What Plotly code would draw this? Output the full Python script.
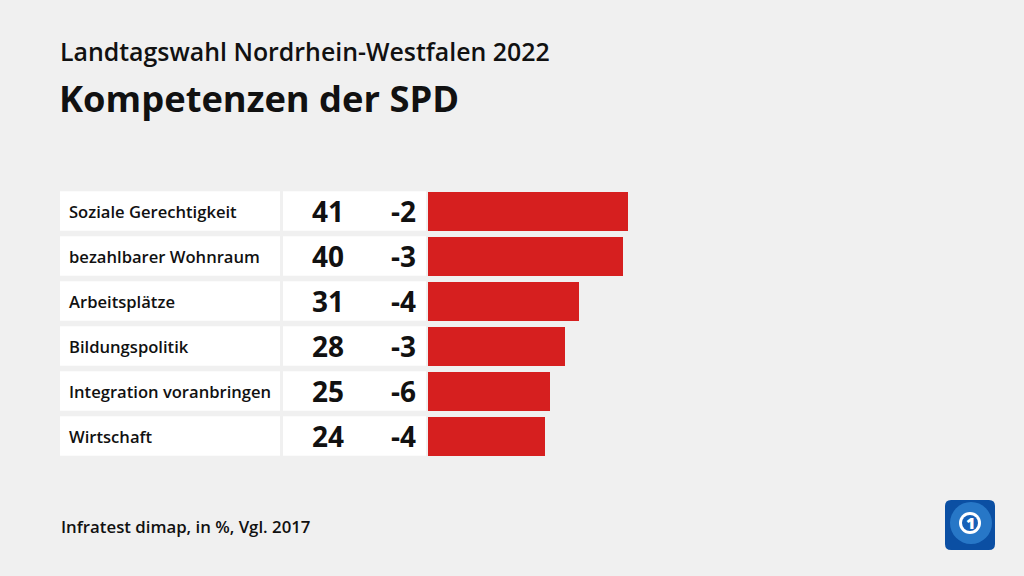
import plotly.graph_objects as go

categories = ["Soziale Gerechtigkeit", "bezahlbarer Wohnraum", "Arbeitsplätze",
              "Bildungspolitik", "Integration voranbringen", "Wirtschaft"]
values = [41, 40, 31, 28, 25, 24]
changes = [-2, -3, -4, -3, -6, -4]

W, H = 1024, 576
BG = "#f0f0f0"
RED = "#d61f1f"
FONT = "Open Sans"

fig = go.Figure()
ypos = list(range(len(categories)))

fig.add_trace(go.Bar(
    x=values, y=ypos, orientation="h", marker=dict(color=RED, line=dict(width=0)),
    width=0.88, hoverinfo="skip", showlegend=False,
))

shapes = []
annotations = []
half = 0.44
for i, (cat, v, c) in enumerate(zip(categories, values, changes)):
    shapes.append(dict(type="rect", xref="paper", yref="y",
                       x0=60 / W, x1=280 / W, y0=i - half, y1=i + half,
                       fillcolor="white", line=dict(width=0), layer="below"))
    shapes.append(dict(type="rect", xref="paper", yref="y",
                       x0=283 / W, x1=426 / W, y0=i - half, y1=i + half,
                       fillcolor="white", line=dict(width=0), layer="below"))
    annotations.append(dict(xref="paper", yref="y", x=67 / W, y=i, text=cat,
                            showarrow=False, xanchor="left", yanchor="middle",
                            font=dict(family=FONT, size=16.6, color="#111", weight=600)))
    annotations.append(dict(xref="paper", yref="y", x=346 / W, y=i, text=str(v),
                            showarrow=False, xanchor="right", yanchor="middle",
                            font=dict(family=FONT, size=28, color="#111", weight=700)))
    annotations.append(dict(xref="paper", yref="y", x=418 / W, y=i, text=str(c),
                            showarrow=False, xanchor="right", yanchor="middle",
                            font=dict(family=FONT, size=28, color="#111", weight=700)))

annotations += [
    dict(xref="paper", yref="paper", x=58 / W, y=1 - 51 / H, text="Landtagswahl Nordrhein-Westfalen 2022",
         showarrow=False, xanchor="left", yanchor="middle",
         font=dict(family=FONT, size=24.9, color="#111", weight=600)),
    dict(xref="paper", yref="paper", x=57 / W, y=1 - 98 / H, text="Kompetenzen der SPD",
         showarrow=False, xanchor="left", yanchor="middle",
         font=dict(family=FONT, size=36.3, color="#111", weight=700)),
    dict(xref="paper", yref="paper", x=59 / W, y=1 - 526 / H, text="Infratest dimap, in %, Vgl. 2017",
         showarrow=False, xanchor="left", yanchor="middle",
         font=dict(family=FONT, size=16.8, color="#111", weight=600)),
    dict(xref="paper", yref="paper", x=970 / W, y=1 - 523 / H, text="1",
         showarrow=False, xanchor="center", yanchor="middle",
         font=dict(family=FONT, size=16, color="white", weight=800)),
]

# logo
x0, x1, y0, y1, r = 945, 995, 500, 550, 6
def px(x): return x / W
def py(y): return 1 - y / H
path = (f"M {px(x0 + r)},{py(y0)} L {px(x1 - r)},{py(y0)} Q {px(x1)},{py(y0)} {px(x1)},{py(y0 + r)} "
        f"L {px(x1)},{py(y1 - r)} Q {px(x1)},{py(y1)} {px(x1 - r)},{py(y1)} "
        f"L {px(x0 + r)},{py(y1)} Q {px(x0)},{py(y1)} {px(x0)},{py(y1 - r)} "
        f"L {px(x0)},{py(y0 + r)} Q {px(x0)},{py(y0)} {px(x0 + r)},{py(y0)} Z")
shapes.append(dict(type="path", xref="paper", yref="paper", path=path,
                   fillcolor="#0b4fa3", line=dict(width=0)))
shapes.append(dict(type="circle", xref="paper", yref="paper",
                   x0=px(950), x1=px(992), y0=py(544), y1=py(502),
                   fillcolor="#3a92e0", line=dict(width=0), opacity=0.6))
shapes.append(dict(type="circle", xref="paper", yref="paper",
                   x0=px(959), x1=px(981), y0=py(534), y1=py(512),
                   fillcolor="white", line=dict(width=0)))
shapes.append(dict(type="circle", xref="paper", yref="paper",
                   x0=px(962), x1=px(978), y0=py(531), y1=py(515),
                   fillcolor="#1560b8", line=dict(width=0)))

fig.update_layout(
    width=W, height=H, paper_bgcolor=BG, plot_bgcolor="rgba(0,0,0,0)",
    margin=dict(l=0, r=0, t=0, b=0),
    xaxis=dict(domain=[428 / W, 628 / W], range=[0, 41], visible=False, fixedrange=True),
    yaxis=dict(domain=[(H - 458.5) / H, (H - 188.5) / H], range=[5.5, -0.5],
               visible=False, fixedrange=True),
    shapes=shapes, annotations=annotations, bargap=0,
)

fig.write_html("out.html", config={"displayModeBar": False},
               post_script="document.body.style.margin='0';document.body.style.background='#f0f0f0';document.body.style.overflow='hidden';")
